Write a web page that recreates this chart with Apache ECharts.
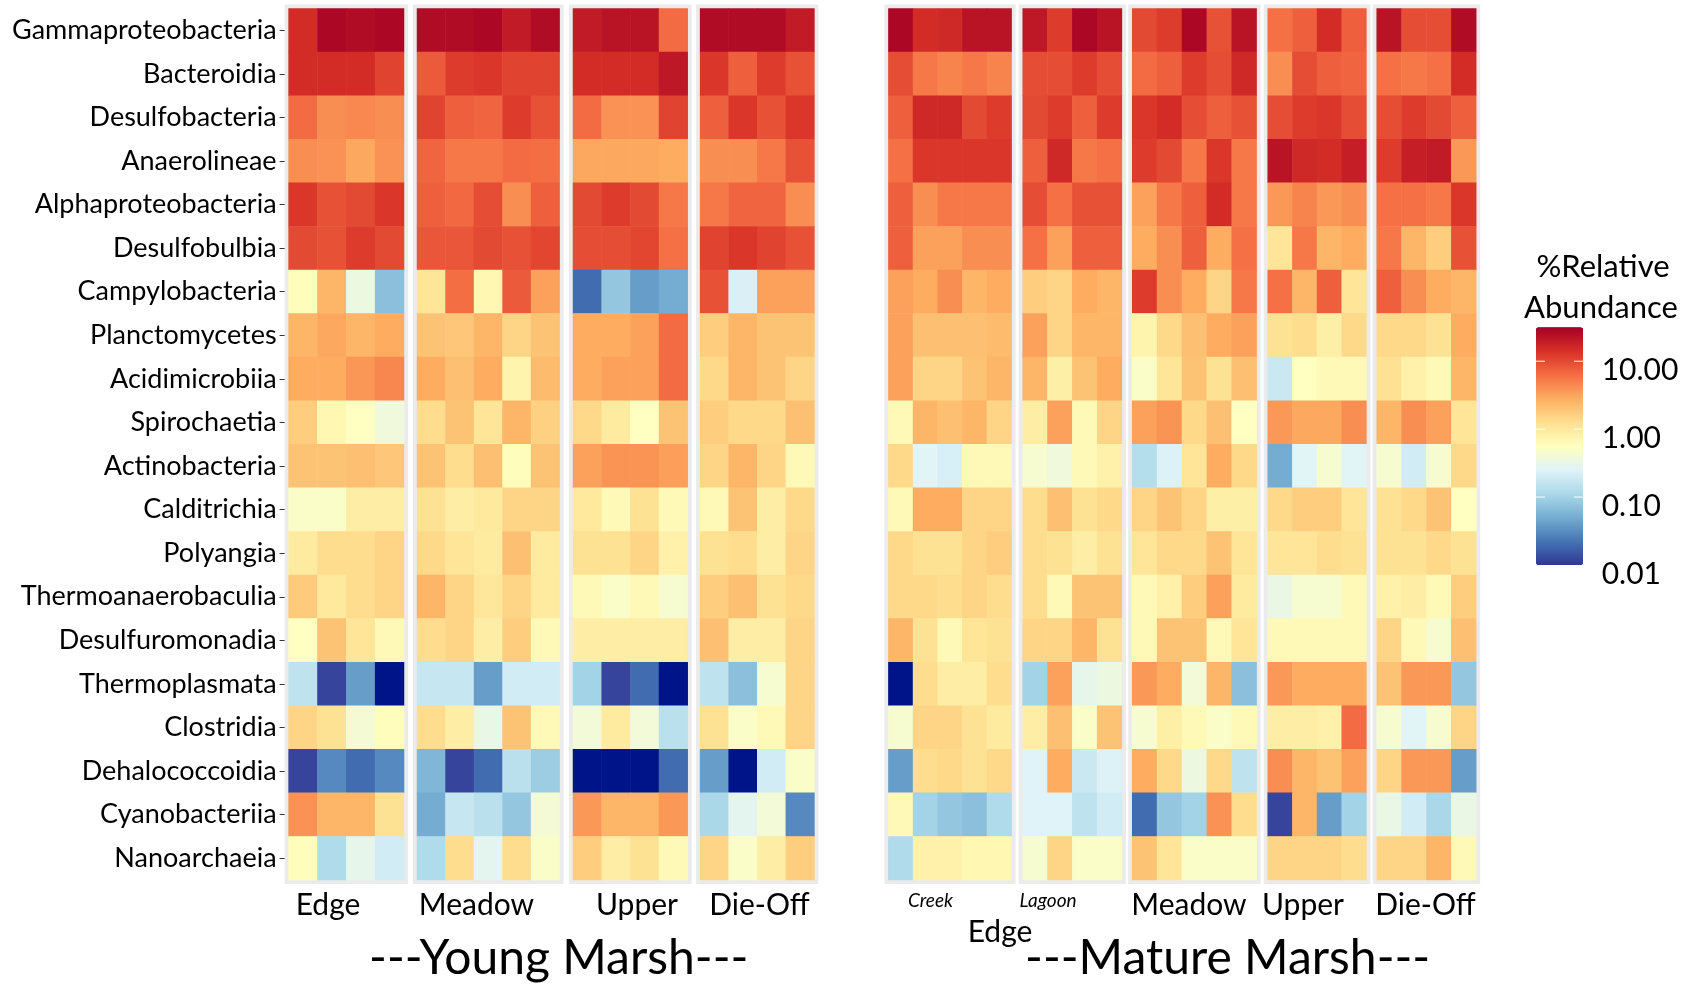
<!DOCTYPE html>
<html><head><meta charset="utf-8">
<script src="https://cdn.jsdelivr.net/npm/echarts@6/dist/echarts.min.js"></script>
<style>html,body{margin:0;padding:0;background:#fff}#c{width:1696px;height:987px}</style>
</head><body><div id="c"></div><script>
// ---- data: % relative abundance (0 = not detected) ----
const taxa = ['Gammaproteobacteria','Bacteroidia','Desulfobacteria','Anaerolineae','Alphaproteobacteria','Desulfobulbia','Campylobacteria','Planctomycetes','Acidimicrobiia','Spirochaetia','Actinobacteria','Calditrichia','Polyangia','Thermoanaerobaculia','Desulfuromonadia','Thermoplasmata','Clostridia','Dehalococcoidia','Cyanobacteriia','Nanoarchaeia'];

const youngEdge = [
 [15,28,26,28],[15,15,15,11],[6.5,4.2,4.5,4.2],[4.2,4.0,3.0,4.0],[13,9,10,13],[10,9,12,10],
 [0.6,2.5,0.35,0.07],[2.5,3.0,2.5,2.9],[2.9,2.9,3.8,4.6],[1.7,0.7,0.55,0.38],[2.0,2.0,2.1,1.9],
 [0.5,0.5,0.9,0.9],[0.95,1.3,1.3,1.5],[1.8,1.0,1.3,1.5],[0.55,2.0,1.1,0.65],[0.15,0.012,0.04,0],
 [1.5,1.2,0.42,0.6],[0.012,0.03,0.02,0.03],[4.0,2.5,2.5,1.2],[0.6,0.12,0.3,0.2]];
const youngMeadow = [
 [26,26,28,20,26],[8,12,13,11,11],[11,7.5,7,12,9],[7,5.5,5.5,6.5,6.2],[7.5,6.7,9.5,4.2,7.5],
 [8.5,8.5,10,9,10.5],[1.1,6.2,0.7,8,3.3],[2.0,1.9,2.5,1.5,2.0],[2.9,2.1,2.9,0.75,2.3],
 [1.3,2.0,1.1,2.5,1.6],[2.0,1.3,2.1,0.6,2.0],[1.2,0.9,1.0,1.5,1.5],[1.4,1.1,0.95,2.1,0.95],
 [2.5,1.5,1.05,1.5,0.95],[1.3,1.5,0.9,1.7,0.65],[0.17,0.17,0.04,0.2,0.2],[1.3,0.9,0.32,2.0,0.65],
 [0.06,0.012,0.02,0.14,0.09],[0.05,0.17,0.14,0.08,0.42],[0.12,1.3,0.28,1.3,0.5]];
const youngUpper = [
 [20,23,23,6.5],[15,15,15,21],[6.5,4.0,4.0,11],[3.0,3.0,3.0,2.9],[10,12,10,5.5],[9.5,9.5,10.5,6],
 [0.02,0.08,0.04,0.05],[2.9,2.9,3.3,6.5],[2.9,3.3,3.3,6.5],[1.4,0.95,0.55,2.0],[3.3,3.9,3.9,3.4],
 [1.0,0.65,1.2,0.65],[1.2,1.2,1.5,0.8],[0.65,0.5,0.65,0.45],[0.9,0.9,0.9,0.9],[0.1,0.012,0.02,0],
 [0.4,0.95,0.4,0.14],[0,0,0,0.02],[3.7,2.5,2.5,3.7],[1.7,0.9,1.2,0.65]];
const youngDieOff = [
 [26,26,26,20],[13,7.5,12,9],[7.5,13,9,13],[4.2,4.2,5.5,9],[5.5,7,7,4.2],[11,13,11,9],
 [9,0.23,3.3,3.3],[1.7,2.5,2.0,2.0],[1.4,2.5,2.0,1.5],[1.7,1.4,1.4,2.1],[1.5,2.5,1.5,0.65],
 [0.65,2.0,0.9,1.4],[1.2,1.3,0.9,1.5],[1.7,2.1,1.2,1.4],[2.1,0.9,0.9,1.5],[0.15,0.07,0.45,1.5],
 [1.2,0.5,0.65,1.5],[0.04,0,0.2,0.5],[0.11,0.28,0.4,0.03],[1.5,0.5,0.9,1.7]];
const matureCreek = [
 [28,15,16,23,23],[9.5,5.5,4.8,5.5,4.8],[7.5,16,16,10,12],[6,13,13,13,13],[7.5,4.2,5.5,5.5,5.5],
 [7.5,3.3,3.3,4.2,4.2],[3.3,2.9,4.2,2.5,2.9],[3.3,2.1,2.1,2.1,2.3],[3.3,1.5,1.5,2.0,2.5],
 [0.65,2.5,2.1,2.5,1.5],[1.4,0.26,0.22,0.65,0.65],[0.65,2.9,2.9,1.5,1.5],[1.4,1.2,1.2,1.5,1.7],
 [1.4,1.4,1.3,1.5,1.3],[2.5,1.2,0.65,1.1,1.2],[0,1.3,0.9,0.9,1.3],[0.45,1.5,1.5,1.2,0.95],
 [0.04,1.3,1.4,1.2,1.4],[0.65,0.1,0.08,0.07,0.12],[0.12,0.8,0.8,0.7,0.7]];
const matureLagoon = [
 [21,12,28,23],[9.5,9.5,12,9.5],[10,12,7.5,12],[7.5,16,5.5,6],[9.5,6,9,9],[6,3.3,7.5,7.5],
 [1.7,1.5,2.9,2.5],[3.3,1.5,2.5,2.5],[2.5,0.85,2.0,2.9],[0.9,3.3,0.65,1.5],[0.45,0.38,0.65,0.8],
 [1.3,2.1,1.2,1.4],[1.3,1.2,0.9,1.2],[1.3,0.65,2.0,2.0],[1.5,1.5,2.5,1.2],[0.1,3.3,0.3,0.35],
 [0.9,2.1,0.5,2.0],[0.25,2.9,0.18,0.24],[0.25,0.25,0.15,0.2],[0.45,1.5,0.5,0.5]];
const matureMeadow = [
 [10,12,28,9,23],[6.5,7.5,12,9.5,16],[13,15,9.5,7.5,9],[12,10,5.5,13,5.5],[3.3,5.5,7.5,15,5.5],
 [2.9,4.2,7.5,2.9,6],[12,4.2,2.9,1.5,5.5],[0.75,1.4,2.1,2.9,3.3],[0.5,1.1,2.0,1.2,2.1],
 [3.3,3.9,1.4,2.1,0.55],[0.13,0.24,1.1,2.9,1.4],[1.5,2.0,1.5,0.85,0.85],[1.1,1.4,1.4,2.0,1.1],
 [0.65,0.8,1.7,3.3,0.95],[0.65,2.0,2.0,0.65,1.1],[3.7,2.9,0.4,2.5,0.07],[0.45,0.85,0.65,0.5,0.65],
 [2.9,1.4,0.35,1.4,0.15],[0.02,0.08,0.1,4.0,1.3],[2.0,1.1,0.5,0.5,0.5]];
const matureUpper = [
 [6,7.5,15,7.5],[4.2,9.5,7.5,7],[9.5,12,13,9.5],[23,16,15,19],[3.7,4.8,3.7,4.2],[1.1,5.5,2.5,2.9],
 [6,2.5,7.5,1.1],[1.2,1.3,0.85,1.4],[0.18,0.55,0.65,0.65],[3.7,3.0,3.0,4.2],[0.05,0.26,0.45,0.26],
 [1.4,1.7,1.7,1.1],[1.1,1.1,1.3,1.2],[0.33,0.45,0.45,0.65],[0.65,0.65,0.65,0.65],[3.7,2.9,2.9,2.9],
 [0.9,0.9,0.8,6.5],[4.2,2.5,2.0,3.3],[0.012,2.5,0.04,0.1],[1.5,1.5,1.5,1.3]];
const matureDieOff = [
 [23,9.5,9.5,26],[6,5.5,6,15],[9.5,12,10,7.5],[12,19,20,3.7],[6,6,5.5,13],[5.5,2.5,1.7,9],
 [7.5,4.2,2.9,2.5],[1.4,1.4,1.2,2.9],[1.2,0.8,0.65,2.5],[2.5,4.2,3.3,1.1],[0.45,0.2,0.45,1.4],
 [1.2,1.4,2.0,0.55],[1.2,1.2,1.4,1.2],[0.8,0.9,0.65,1.7],[1.5,0.65,0.45,2.1],[2.0,3.7,3.7,0.08],
 [0.45,0.26,0.45,1.5],[1.5,3.7,3.7,0.04],[0.33,0.2,0.11,0.33],[1.5,1.5,2.5,0.65]];

const legendTickValues = [10, 1, 0.1, 0.01];
const legendTickLabels = ['10.00', '1.00', '0.10', '0.01'];
const logMin = -2, logMax = 1.5;

// ---- layout ----
const FONT = 'Lato, "Open Sans", sans-serif';
const gridTop = 8.5, gridHeight = 871.5;
const panels = [
  {data: youngEdge,    left: 288.6, width: 115.4},
  {data: youngMeadow,  left: 417.0, width: 142.6},
  {data: youngUpper,   left: 573.0, width: 114.7},
  {data: youngDieOff,  left: 700.1, width: 114.3},
  {data: matureCreek,  left: 888.4, width: 123.2},
  {data: matureLagoon, left: 1022.7, width: 99.2},
  {data: matureMeadow, left: 1132.2, width: 124.4},
  {data: matureUpper,  left: 1267.7, width: 98.7},
  {data: matureDieOff, left: 1376.7, width: 99.5}
];

const grids = [], xAxes = [], yAxes = [], series = [];
panels.forEach((p, i) => {
  const nCol = p.data[0].length;
  grids.push({left: p.left, top: gridTop, width: p.width, height: gridHeight,
    show: true, backgroundColor: '#ebebeb', borderColor: '#ebebeb', borderWidth: 8});
  xAxes.push({gridIndex: i, type: 'category', data: Array.from({length: nCol}, (_, k) => String(k + 1)), show: false});
  yAxes.push({gridIndex: i, type: 'category', data: taxa, inverse: true, show: i === 0, offset: 4,
    axisLine: {show: false},
    axisTick: {show: true, alignWithLabel: true, length: 5, lineStyle: {color: '#333', width: 1}},
    axisLabel: {margin: 8, color: '#000', fontSize: 27, fontFamily: FONT}});
  const d = [];
  p.data.forEach((row, r) => row.forEach((v, c) => {
    d.push([c, r, v > 0 ? Math.log10(v) : -9]);
  }));
  series.push({type: 'heatmap', xAxisIndex: i, yAxisIndex: i, data: d, silent: true,
    itemStyle: {borderWidth: 0}, emphasis: {disabled: true}, progressive: 0});
});

const barLeft = 1536, barTop = 327.3, barW = 47, barH = 237.7;
const graphics = [];
function txt(x, y, s, size, opts) {
  graphics.push({type: 'text', x: x, y: y, silent: true,
    style: Object.assign({text: s, fill: '#000', font: size + 'px ' + FONT, textAlign: 'center', textVerticalAlign: 'middle'}, opts || {})});
}
// facet labels
txt(328, 905, 'Edge', 30);
txt(476.5, 905, 'Meadow', 30);
txt(637, 905, 'Upper', 30);
txt(759.5, 905, 'Die-Off', 30);
txt(930.5, 901, 'Creek', 19, {font: 'italic 19px ' + FONT});
txt(1048, 901, 'Lagoon', 19, {font: 'italic 19px ' + FONT});
txt(1000, 932, 'Edge', 30);
txt(1189, 905, 'Meadow', 30);
txt(1303, 905, 'Upper', 30);
txt(1425.5, 905, 'Die-Off', 30);
txt(558.7, 959, '---Young Marsh---', 48);
txt(1227.6, 959, '---Mature Marsh---', 48);
// legend title and labels
txt(1603, 267, '%Relative', 31);
txt(1601, 308, 'Abundance', 31);
legendTickValues.forEach((v, k) => {
  const y = barTop + (logMax - Math.log10(v)) / (logMax - logMin) * barH;
  txt(1601.7, y + 9, legendTickLabels[k], 30, {textAlign: 'left'});
  if (y > barTop + 2 && y < barTop + barH - 2) {
    graphics.push({type: 'line', silent: true, z: 100, shape: {x1: barLeft, y1: y, x2: barLeft + 9, y2: y}, style: {stroke: '#fff', lineWidth: 1.2, opacity: 0.8}});
    graphics.push({type: 'line', silent: true, z: 100, shape: {x1: barLeft + barW - 9, y1: y, x2: barLeft + barW, y2: y}, style: {stroke: '#fff', lineWidth: 1.2, opacity: 0.8}});
  }
});

const chart = echarts.init(document.getElementById('c'), null, {renderer: 'canvas'});
chart.setOption({
  backgroundColor: '#fff',
  animation: false,
  grid: grids, xAxis: xAxes, yAxis: yAxes, series: series,
  visualMap: {
    type: 'continuous', min: logMin, max: logMax, range: [logMin + 1e-6, logMax],
    calculable: false, show: true,
    orient: 'vertical', left: barLeft, top: barTop, itemWidth: barW, itemHeight: barH, padding: 0,
    text: null, showLabel: false,
    inRange: {color: ['#313695','#4575b4','#74add1','#abd9e9','#e0f3f8','#ffffbf','#fee090','#fdae61','#f46d43','#d73027','#a50026']},
    outOfRange: {color: ['#00148a']}
  },
  graphic: graphics
});
</script></body></html>
